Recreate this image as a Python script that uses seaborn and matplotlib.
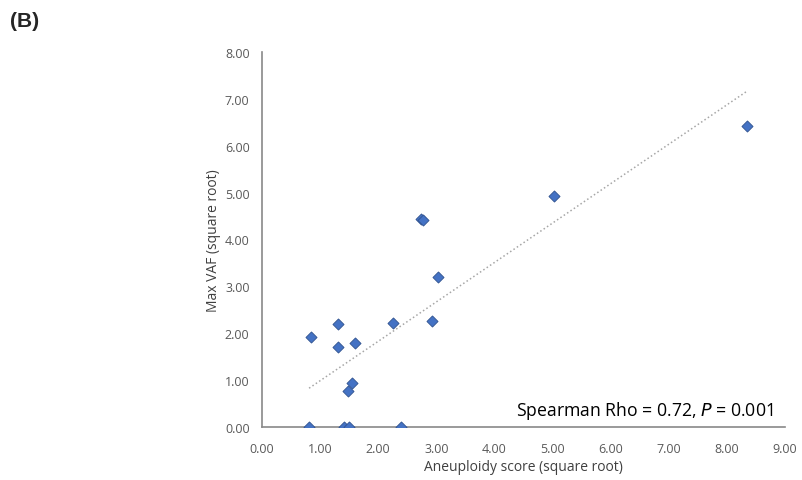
import numpy as np
import pandas as pd
import seaborn as sns
import matplotlib.pyplot as plt

# values
aneuploidy = [0.81, 0.84, 1.31, 1.31, 1.60, 1.55, 1.48, 1.41, 1.50, 2.39,
              2.25, 2.93, 3.03, 2.74, 2.77, 5.03, 8.35]
max_vaf = [0.00, 1.92, 2.20, 1.71, 1.79, 0.94, 0.77, 0.00, 0.00, 0.00,
           2.22, 2.26, 3.20, 4.43, 4.42, 4.93, 6.42]
x_ticks = [0, 1, 2, 3, 4, 5, 6, 7, 8, 9]
y_ticks = [0, 1, 2, 3, 4, 5, 6, 7, 8]

df = pd.DataFrame({'x': aneuploidy, 'y': max_vaf})

sns.set_style('white')
plt.rcParams['font.family'] = ['Open Sans', 'DejaVu Sans']

fig = plt.figure(figsize=(8.02, 4.81), dpi=100)
ax = fig.add_axes([0.3267, 0.1102, 0.652, 0.7796])

sns.regplot(x='x', y='y', data=df, ax=ax, scatter=False, ci=None, truncate=True,
            line_kws={'color': '#a6a6a6', 'linestyle': ':', 'linewidth': 1.1})
sns.scatterplot(x='x', y='y', data=df, ax=ax, marker='D', s=32,
                color='#4472c4', edgecolor='#2f528f', linewidth=0.6, zorder=3)

ax.set_xlim(0, 9)
ax.set_ylim(0, 8)
ax.set_xticks(x_ticks)
ax.set_yticks(y_ticks)
ax.set_xticklabels([f'{v:.2f}' for v in x_ticks])
ax.set_yticklabels([f'{v:.2f}' for v in y_ticks])
ax.tick_params(axis='both', length=0, labelsize=9, labelcolor='#595959')
ax.tick_params(axis='x', pad=11)
ax.tick_params(axis='y', pad=9)
for s in ['top', 'right']:
    ax.spines[s].set_visible(False)
for s in ['left', 'bottom']:
    ax.spines[s].set_color('#898989')
    ax.spines[s].set_linewidth(1.2)
    ax.spines[s].set_clip_on(False)
ax.set_xlabel('Aneuploidy score (square root)', fontsize=10, color='#404040', labelpad=3)
ax.set_ylabel('Max VAF (square root)', fontsize=10, color='#404040', labelpad=3)

ax.text(0.978, 0.016, 'Spearman Rho = 0.72, $\\it{P}$ = 0.001', transform=ax.transAxes,
        ha='right', va='bottom', fontsize=12.7, color='black')
fig.text(0.012, 0.955, '(B)', fontsize=15, fontweight='bold', family='Liberation Sans',
         ha='left', va='center')

fig.savefig('out.png', dpi=100)
